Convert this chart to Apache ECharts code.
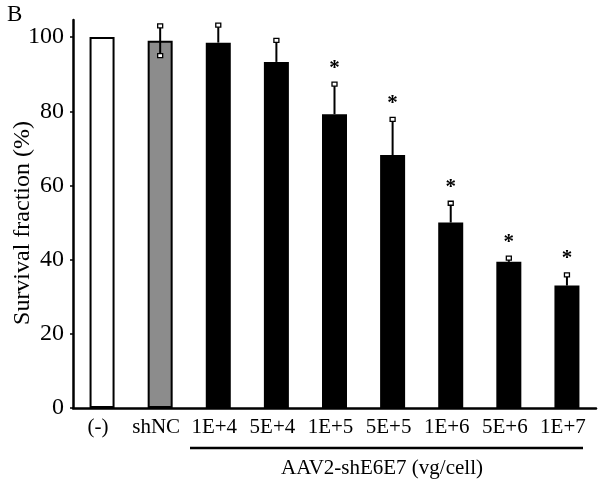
<!DOCTYPE html>
<html>
<head>
<meta charset="utf-8">
<script src="https://cdn.jsdelivr.net/npm/echarts@6/dist/echarts.min.js"></script>
<style>
html,body{margin:0;padding:0;background:#fff;}
#main{width:602px;height:490px;}
</style>
</head>
<body>
<div id="main"></div>
<script>
const categories = ['(-)', 'shNC', '1E+4', '5E+4', '1E+5', '5E+5', '1E+6', '5E+6', '1E+7'];
const values = [100, 99.0, 98.5, 93.3, 79.2, 68.2, 50.0, 39.4, 33.0];
const errors = [0, 4.0, 4.7, 5.8, 8.1, 9.6, 5.2, 1.0, 2.9];
const significant = [0, 0, 0, 0, 1, 1, 1, 1, 1];
const barColors = ['#ffffff', '#8c8c8c', '#000000', '#000000', '#000000', '#000000', '#000000', '#000000', '#000000'];
const yTicks = [0, 20, 40, 60, 80, 100];
const yTitle = 'Survival fraction (%)';
const xTitle = 'AAV2-shE6E7 (vg/cell)';
const panelLabel = 'B';

const FONT = '"Liberation Serif", "Times New Roman", serif';
const chart = echarts.init(document.getElementById('main'), null, {renderer: 'canvas'});

const barData = values.map((v, i) => ({
  value: v,
  itemStyle: {color: barColors[i], borderColor: '#000', borderWidth: 2}
}));
const errData = values.map((v, i) => [i, v, errors[i], barColors[i] === '#000000' ? 0 : 1]);
const sigData = values.map((v, i) => [i, v + errors[i], significant[i]]).filter(d => d[2]);

chart.setOption({
  animation: false,
  backgroundColor: '#fff',
  grid: {left: 73, right: 6, top: 20, bottom: 82, containLabel: false},
  xAxis: {
    type: 'category',
    data: categories,
    axisLine: {lineStyle: {color: '#000', width: 2.5}},
    axisTick: {show: false},
    axisLabel: {color: '#000', fontFamily: FONT, fontSize: 21, margin: 9, padding: [0, 8, 0, 0], interval: 0}
  },
  yAxis: {
    type: 'value',
    min: 0,
    max: 104.6,
    interval: 20,
    splitLine: {show: false},
    axisLine: {show: true, lineStyle: {color: '#000', width: 2.5}},
    axisTick: {show: true, length: 3, lineStyle: {color: '#000', width: 1.5}},
    axisLabel: {color: '#000', fontFamily: FONT, fontSize: 24, margin: 9, showMaxLabel: false,
      formatter: v => yTicks.indexOf(v) >= 0 ? String(v) : ''}
  },
  series: [
    {
      type: 'bar',
      data: barData,
      barWidth: 25,
      z: 2
    },
    {
      type: 'custom',
      z: 3,
      data: errData,
      renderItem: function (params, api) {
        const i = api.value(0), v = api.value(1), e = api.value(2), lower = api.value(3);
        if (!e) return null;
        const top = api.coord([i, v + e]);
        const bot = api.coord([i, lower ? v - e : v]);
        const x = top[0];
        const children = [
          {type: 'line', shape: {x1: x, y1: top[1], x2: x, y2: bot[1]}, style: {stroke: '#000', lineWidth: 2}},
          {type: 'rect', shape: {x: x - 2.5, y: top[1] - 2, width: 5, height: 4}, style: {fill: '#fff', stroke: '#000', lineWidth: 1.3}}
        ];
        if (lower) {
          children.push({type: 'rect', shape: {x: x - 2.5, y: bot[1] - 2, width: 5, height: 4}, style: {fill: '#fff', stroke: '#000', lineWidth: 1.3}});
        }
        return {type: 'group', children: children};
      }
    },
    {
      type: 'custom',
      z: 4,
      data: sigData,
      renderItem: function (params, api) {
        const p = api.coord([api.value(0), api.value(1)]);
        return {
          type: 'text',
          style: {text: '*', x: p[0], y: p[1] - 16, fill: '#000', font: 'bold 21px ' + FONT, align: 'center', verticalAlign: 'middle'}
        };
      }
    }
  ],
  graphic: [
    {type: 'text', left: 7, top: 3, style: {text: panelLabel, fill: '#000', font: '23px ' + FONT}},
    {type: 'text', x: 23, y: 223, rotation: Math.PI / 2, style: {text: yTitle, fill: '#000', font: '24px ' + FONT, align: 'center', verticalAlign: 'middle'}},
    {type: 'line', shape: {x1: 190, y1: 448, x2: 583, y2: 448}, style: {stroke: '#000', lineWidth: 2.5}},
    {type: 'text', x: 382, y: 468, style: {text: xTitle, fill: '#000', font: '21px ' + FONT, align: 'center', verticalAlign: 'middle'}}
  ]
});
</script>
</body>
</html>
